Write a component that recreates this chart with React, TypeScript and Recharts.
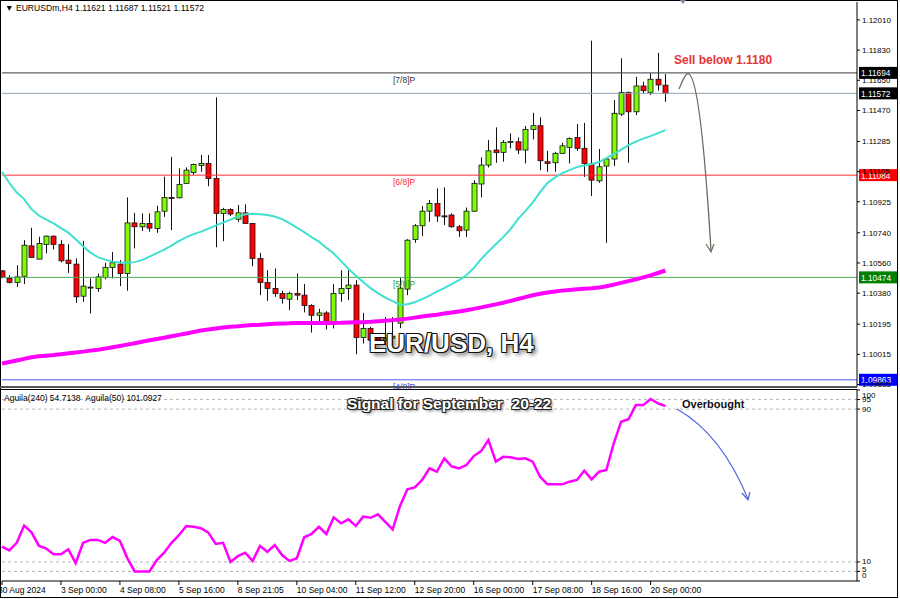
import { ComposedChart, Bar, Line, XAxis, YAxis, ReferenceLine } from "recharts";

// EURUSD H4 candles, 30 Aug – 20 Sep 2024
const opens = [
  1.10513, 1.10468, 1.10444, 1.10481, 1.10662, 1.10583, 1.10671, 1.1072, 1.10671, 1.10577,
  1.10553, 1.10362, 1.10416, 1.10408, 1.10474, 1.10533, 1.10553, 1.10497, 1.10799, 1.10776,
  1.10796, 1.10766, 1.10869, 1.10951, 1.10949, 1.11035, 1.111, 1.11142, 1.11154, 1.11064,
  1.10856, 1.10879, 1.10821, 1.10859, 1.10796, 1.10587, 1.10444, 1.10408, 1.10378, 1.10344,
  1.10378, 1.10368, 1.10306, 1.10248, 1.10262, 1.10193, 1.10378, 1.10408, 1.10428, 1.10115,
  1.10169, 1.10119, 1.10099, 1.10111, 1.10201, 1.10404, 1.107, 1.10782, 1.10869, 1.10915,
  1.10841, 1.10846, 1.10776, 1.10756, 1.10869, 1.11031, 1.11144, 1.11234, 1.1122, 1.11281,
  1.11283, 1.11234, 1.11357, 1.11379, 1.11164, 1.11158, 1.11214, 1.1125, 1.11309, 1.11244,
  1.1115, 1.1105, 1.11138, 1.1118, 1.11448, 1.11578, 1.11462, 1.11616, 1.11578, 1.11656,
  1.11621,
];
const highs = [
  1.10517, 1.10487, 1.10547, 1.10696, 1.1077, 1.10716, 1.10724, 1.10724, 1.10696, 1.10672,
  1.10587, 1.10692, 1.10468, 1.10497, 1.10561, 1.10626, 1.10577, 1.10951, 1.10859, 1.10856,
  1.10856, 1.10901, 1.11075, 1.11193, 1.11124, 1.1113, 1.11154, 1.11204, 1.11204, 1.11548,
  1.10889, 1.10886, 1.10906, 1.1091, 1.10799, 1.1062, 1.10517, 1.10527, 1.10394, 1.10388,
  1.10497, 1.10434, 1.10314, 1.10286, 1.10272, 1.10434, 1.10517, 1.10517, 1.10457, 1.10262,
  1.10179, 1.10141, 1.10237, 1.10237, 1.10475, 1.10702, 1.10792, 1.10899, 1.10935, 1.11005,
  1.11011, 1.10856, 1.10786, 1.10891, 1.11054, 1.1119, 1.11293, 1.11369, 1.11293, 1.11333,
  1.11309, 1.11377, 1.11456, 1.11429, 1.11229, 1.11223, 1.11277, 1.11309, 1.11389, 1.11396,
  1.11886, 1.1124, 1.11184, 1.11532, 1.11781, 1.11582, 1.11671, 1.11641, 1.11692, 1.11814,
  1.11687,
];
const lows = [
  1.10468, 1.10438, 1.10417, 1.10434, 1.10591, 1.10581, 1.10617, 1.10641, 1.10563, 1.10501,
  1.10322, 1.10328, 1.10259, 1.10388, 1.10462, 1.10468, 1.10422, 1.10394, 1.10647, 1.1075,
  1.10746, 1.1074, 1.10835, 1.10756, 1.10945, 1.11031, 1.11084, 1.11104, 1.11018, 1.10653,
  1.1069, 1.1084, 1.10805, 1.10792, 1.10541, 1.10368, 1.10334, 1.10358, 1.10318, 1.10278,
  1.10338, 1.10265, 1.10145, 1.10208, 1.10163, 1.10169, 1.10328, 1.10338, 1.10016, 1.1008,
  1.1008, 1.10069, 1.10069, 1.10069, 1.10171, 1.10368, 1.1068, 1.1072, 1.10805, 1.10805,
  1.10786, 1.1077, 1.10716, 1.10716, 1.10865, 1.10951, 1.1113, 1.11158, 1.11164, 1.11244,
  1.1121, 1.11154, 1.11297, 1.11114, 1.11104, 1.11104, 1.1121, 1.11154, 1.11229, 1.11074,
  1.10959, 1.11038, 1.1068, 1.11138, 1.11437, 1.11158, 1.11442, 1.11572, 1.11562, 1.11588,
  1.11521,
];
const closes = [
  1.10474, 1.10444, 1.10477, 1.10666, 1.10593, 1.10676, 1.1072, 1.10671, 1.10573, 1.10557,
  1.10358, 1.10422, 1.10414, 1.10477, 1.10533, 1.10561, 1.10497, 1.10799, 1.10776, 1.10796,
  1.10768, 1.10865, 1.10951, 1.10947, 1.11029, 1.11114, 1.11148, 1.11154, 1.11064, 1.10856,
  1.10879, 1.10852, 1.10859, 1.10796, 1.10587, 1.10444, 1.10408, 1.10378, 1.10348, 1.10378,
  1.10368, 1.10306, 1.10248, 1.10262, 1.10199, 1.10378, 1.10408, 1.10428, 1.10115, 1.10169,
  1.10099, 1.10099, 1.10108, 1.10123, 1.1041, 1.10696, 1.10782, 1.10869, 1.10915, 1.1084,
  1.10838, 1.10776, 1.10752, 1.10869, 1.11035, 1.11144, 1.11229, 1.11218, 1.1128, 1.11285,
  1.11234, 1.11357, 1.11379, 1.1117, 1.11154, 1.11214, 1.11259, 1.11303, 1.11244, 1.11154,
  1.11054, 1.11134, 1.1118, 1.11453, 1.11578, 1.11462, 1.11616, 1.11588, 1.11656, 1.11622,
  1.11572,
];
// turquoise moving average
const fastMa = [
  1.11104, 1.11037, 1.1098, 1.10941, 1.10881, 1.10843, 1.10819, 1.10796, 1.10768, 1.10741,
  1.10702, 1.1066, 1.10622, 1.10595, 1.1058, 1.10568, 1.10563, 1.10561, 1.10565, 1.10577,
  1.10598, 1.10619, 1.1064, 1.10663, 1.1069, 1.10714, 1.10732, 1.10747, 1.10765, 1.10783,
  1.10801, 1.10819, 1.10837, 1.10851, 1.10854, 1.10851, 1.10846, 1.10837, 1.10822, 1.10798,
  1.10771, 1.10744, 1.10714, 1.10687, 1.10651, 1.10616, 1.10571, 1.10526, 1.10484, 1.10446,
  1.1041, 1.1038, 1.10353, 1.10332, 1.10311, 1.10314, 1.10326, 1.10344, 1.10365, 1.10389,
  1.1041, 1.10434, 1.10457, 1.10487, 1.10529, 1.10583, 1.10628, 1.10672, 1.10714, 1.10762,
  1.10822, 1.10869, 1.1092, 1.10983, 1.11037, 1.11069, 1.11096, 1.11114, 1.11132, 1.11141,
  1.1115, 1.11162, 1.11186, 1.1121, 1.11236, 1.11263, 1.11284, 1.11302, 1.11317, 1.11335,
  1.11353,
];
// magenta moving average
const slowMa = [
  1.0996, 1.09969, 1.09978, 1.09988, 1.09997, 1.10003, 1.10007, 1.10011, 1.10016, 1.10021,
  1.10026, 1.10031, 1.10037, 1.10042, 1.10049, 1.10057, 1.10065, 1.10073, 1.10081, 1.1009,
  1.10099, 1.10106, 1.10114, 1.10123, 1.10131, 1.10139, 1.10148, 1.10157, 1.10163, 1.10169,
  1.10175, 1.1018, 1.10183, 1.10187, 1.1019, 1.10192, 1.10195, 1.10197, 1.10199, 1.102,
  1.10202, 1.10202, 1.10202, 1.10202, 1.10202, 1.10202, 1.10203, 1.10205, 1.10206, 1.10207,
  1.10209, 1.10212, 1.10215, 1.10219, 1.10223, 1.10228, 1.10234, 1.1024, 1.10246, 1.10251,
  1.10258, 1.10264, 1.10271, 1.10278, 1.10286, 1.10295, 1.10304, 1.10313, 1.10323, 1.10334,
  1.10345, 1.10356, 1.10367, 1.10376, 1.10384, 1.1039, 1.10395, 1.10399, 1.10403, 1.10406,
  1.10409, 1.10413, 1.10421, 1.10431, 1.10441, 1.10452, 1.10462, 1.10474, 1.10486, 1.105,
  1.10515,
];
// Aguila oscillator (lower pane)
const aguila = [
  18, 16, 20, 29, 25.5, 18.5, 17, 14, 14, 16.6,
  9.3, 20, 21.5, 21.5, 20, 23, 21, 12, 5, 5,
  5, 11, 14.8, 20, 24, 28.8, 28.4, 27.6, 25.3, 19.4,
  20, 10, 13, 14.8, 10.5, 18.3, 15.3, 18.8, 13.6, 10.5,
  11.9, 22.9, 24.6, 28.4, 24.6, 33.3, 30.2, 32.3, 28.8, 33.7,
  33.1, 34.9, 31, 27, 39.3, 48, 49, 52.9, 59, 57.2,
  64.2, 60, 59, 60.7, 65.4, 68, 73.8, 62.5, 65, 64.8,
  63.9, 64.2, 62.5, 54.6, 50.6, 50.6, 50.6, 52, 52.9, 57.7,
  53.2, 57.2, 58.1, 72.1, 83.4, 84.7, 92.1, 92.1, 95.3, 93,
  91.6,
];

const priceTicks = [
  1.1201, 1.1183, 1.1165, 1.1147, 1.11285, 1.11105, 1.10925, 1.1074, 1.1056, 1.1038, 1.10195,
  1.10015, 1.09835,
];
const oscTicks = [0, 5, 10, 90, 95, 100];
const dateTickIdx = [0, 8, 16, 24, 32, 40, 48, 56, 64, 72, 80, 88];
const dateLabels = [
  "30 Aug 2024", "3 Sep 00:00", "4 Sep 08:00", "5 Sep 16:00", "8 Sep 21:05", "10 Sep 04:00",
  "11 Sep 12:00", "12 Sep 20:00", "16 Sep 00:00", "17 Sep 08:00", "18 Sep 16:00", "20 Sep 00:00",
];
const levelValues = [1.11694, 1.11572, 1.11084, 1.10474, 1.09863];
const levelNames = ["[7/8]P", "", "[6/8]P", "[5/8]P", "[4/8]P"];
const levelLine = ["#3a3a3a", "#8fa2b6", "#ff2a2a", "#4caf50", "#4d5cff"];
const levelTag = ["#000000", "#000000", "#ff0000", "#008000", "#0000ff"];
const levelText = ["#333333", "", "#ff2a2a", "#2e9a2e", "#3344ee"];
const oscLevels = [95, 90, 10, 5];

const FONT = "'Liberation Sans', Arial, sans-serif";

const candles = opens.map((o, i) => ({
  idx: i,
  open: o,
  high: highs[i],
  low: lows[i],
  close: closes[i],
  range: [lows[i], highs[i]],
  fast: fastMa[i],
  slow: slowMa[i],
}));
const oscRows = aguila.map((v, i) => ({ idx: i, aguila: v }));

const Candle = (props: any) => {
  const { x, y, width, height, payload } = props;
  const { open, close, high, low } = payload;
  const top = Math.min(y, y + height);
  const h = Math.abs(height);
  const span = high - low || 1e-9;
  const py = (v: number) => top + ((high - v) / span) * h;
  const cx = Math.round(x + width / 2) + 0.5;
  const bTop = py(Math.max(open, close));
  const bBot = py(Math.min(open, close));
  return (
    <g>
      <line x1={cx} x2={cx} y1={top} y2={top + h} stroke="#111" strokeWidth={1} />
      <rect
        x={cx - 2.5}
        y={bTop}
        width={5}
        height={Math.max(bBot - bTop, 1)}
        fill={close >= open ? "#7cfc00" : "#ff0000"}
        stroke="#111"
        strokeWidth={0.8}
      />
    </g>
  );
};

const LevelLabel = (p: any) => {
  const { viewBox, i } = p;
  const { x, y, width } = viewBox;
  return (
    <g>
      {levelNames[i] && (
        <text x={x + 391} y={y + 10} fill={levelText[i]} fontSize={8.5} fontFamily={FONT}>
          {levelNames[i]}
        </text>
      )}
      <rect x={x + width + 2} y={y - 6} width={38} height={12} fill={levelTag[i]} />
      <text x={x + width + 4} y={y + 3.5} fill="#fff" fontSize={8.3} fontFamily={FONT}>
        {levelValues[i].toFixed(5)}
      </text>
    </g>
  );
};

// MT4 squeezes the end labels of the oscillator scale inside the pane
const OscTick = (p: any) => {
  const { x, y, payload } = p;
  const v = payload.value;
  const shift = v === 100 ? 5 : v === 0 ? -6 : v === 5 ? -2 : 0;
  return (
    <text x={x} y={y + shift} dy="0.32em" fontSize={8} fontFamily={FONT} fill="#000">
      {v}
    </text>
  );
};

const DateTick = (p: any) => {
  const { x, y, payload } = p;
  const k = dateTickIdx.indexOf(payload.value);
  return (
    <text x={k === 0 ? x - 4 : x} y={y} dy="0.71em" fontSize={8.5} fontFamily={FONT} fill="#000">
      {dateLabels[k]}
    </text>
  );
};

const abs = (left: number, top: number, extra: any = {}) => ({
  position: "absolute" as const,
  left,
  top,
  fontFamily: FONT,
  whiteSpace: "nowrap" as const,
  ...extra,
});

export default function App() {
  return (
    <div style={{ position: "relative", width: 900, height: 599, background: "#fff", overflow: "hidden" }}>
      <style>{`body{margin:0}`}</style>
      <div style={{ position: "absolute", left: 0, top: 0 }}>
        <ComposedChart width={900} height={389} data={candles} margin={{ top: 2, right: 0, bottom: 2, left: 2 }}>
          <XAxis dataKey="idx" type="number" domain={[0, 116]} hide />
          <YAxis
            orientation="right"
            width={43}
            domain={[1.0982, 1.12117]}
            ticks={priceTicks}
            interval={0}
            tickFormatter={(v: number) => v.toFixed(5)}
            tick={{ fontSize: 8, fill: "#000", fontFamily: FONT }}
            tickSize={3}
            tickMargin={2}
            axisLine={{ stroke: "#000" }}
            tickLine={{ stroke: "#000" }}
          />
          {levelValues.map((v, i) => (
            <ReferenceLine
              key={v}
              y={v}
              stroke={levelLine[i]}
              strokeWidth={1}
              label={(lp: any) => <LevelLabel {...lp} i={i} />}
            />
          ))}
          <Line dataKey="slow" stroke="#ff00ff" strokeWidth={4} dot={false} isAnimationActive={false} />
          <Line dataKey="fast" stroke="#40e0d0" strokeWidth={2} dot={false} isAnimationActive={false} />
          <Bar dataKey="range" barSize={5} shape={<Candle />} isAnimationActive={false} />
        </ComposedChart>
      </div>
      <div style={{ position: "absolute", left: 0, top: 389 }}>
        <ComposedChart width={900} height={210} data={oscRows} margin={{ top: 1, right: 0, bottom: 0, left: 2 }}>
          <XAxis
            dataKey="idx"
            type="number"
            domain={[0, 116]}
            ticks={dateTickIdx}
            interval={0}
            height={18}
            tick={<DateTick />}
            tickSize={4}
            tickMargin={2}
            axisLine={{ stroke: "#000" }}
            tickLine={{ stroke: "#000" }}
          />
          <YAxis
            orientation="right"
            width={43}
            domain={[0, 100]}
            ticks={oscTicks}
            interval={0}
            tick={<OscTick />}
            tickSize={3}
            tickMargin={2}
            axisLine={{ stroke: "#000" }}
            tickLine={{ stroke: "#000" }}
          />
          {oscLevels.map((v) => (
            <ReferenceLine key={v} y={v} stroke="#b5b5b5" strokeDasharray="3 3" />
          ))}
          <Line dataKey="aguila" stroke="#ff00ff" strokeWidth={2.5} dot={false} isAnimationActive={false} />
        </ComposedChart>
      </div>

      {/* panel frames */}
      <div style={{ position: "absolute", left: 0, top: 0, width: 896, height: 596, border: "1.5px solid #000" }} />
      <div style={{ position: "absolute", left: 0, top: 386, width: 857, height: 2, background: "#555" }} />
      <div style={{ position: "absolute", left: 0, top: 389, width: 857, height: 1, background: "#000" }} />

      {/* hand-drawn annotations */}
      <svg width={900} height={599} style={{ position: "absolute", left: 0, top: 0, pointerEvents: "none" }}>
        <path d="M679 89 C 683 80, 686 72, 689 74 C 698 80, 705 150, 711 251" fill="none" stroke="#6e6a5e" strokeWidth={1.3} />
        <path d="M706 244 L711 252 L714 244" fill="none" stroke="#6e6a5e" strokeWidth={1.2} />
        <path d="M677 409 C 705 425, 730 455, 748 499" fill="none" stroke="#5566dd" strokeWidth={1.2} />
        <path d="M742 493 L748 500 L750 492" fill="none" stroke="#5566dd" strokeWidth={1.2} />
        <path d="M680 0 L686 0 L683 4 Z" fill="#7a8aa0" />
      </svg>

      <div style={abs(5, 3, { fontSize: 8.6, lineHeight: "11px", color: "#000" })}>
        ▼ EURUSDm,H4 1.11621 1.11687 1.11521 1.11572
      </div>
      <div style={abs(674, 53, { fontSize: 12, fontWeight: "bold", lineHeight: "14px", color: "#e8333a" })}>
        Sell below 1.1180
      </div>
      <div
        style={abs(369, 328, {
          fontSize: 26,
          fontWeight: "bold",
          lineHeight: "30px",
          color: "#fff",
          textShadow:
            "1px 1px 0 #111, -1px -1px 0 #111, 1px -1px 0 #111, -1px 1px 0 #111, 3px 3px 4px rgba(0,0,0,0.6)",
        })}
      >
        EUR/USD, H4
      </div>
      <div style={abs(4, 393, { fontSize: 8.5, lineHeight: "11px", color: "#000" })}>
        Aguila(240) 54.7138&nbsp;&nbsp;Aguila(50) 101.0927
      </div>
      <div
        style={abs(347, 395, {
          fontSize: 15.5,
          fontWeight: "bold",
          lineHeight: "18px",
          color: "#fff",
          textShadow:
            "1px 1px 0 #222, -1px -1px 0 #222, 1px -1px 0 #222, -1px 1px 0 #222, 2px 2px 3px rgba(0,0,0,0.6)",
        })}
      >
        Signal for September&nbsp;&nbsp;20-22
      </div>
      <div style={abs(682, 397, { fontSize: 11, fontWeight: "bold", lineHeight: "14px", color: "#111" })}>
        Overbought
      </div>
    </div>
  );
}
